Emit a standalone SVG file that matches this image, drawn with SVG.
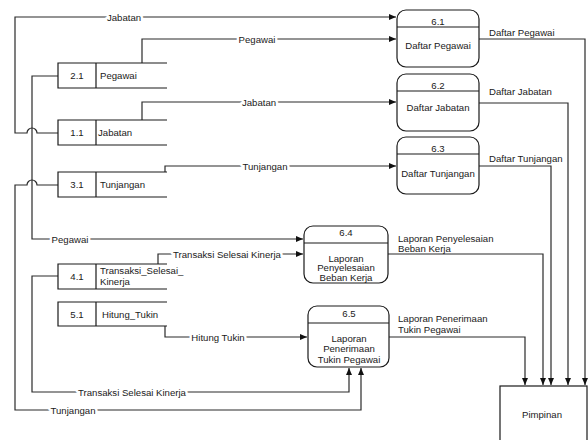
<svg xmlns="http://www.w3.org/2000/svg" width="588" height="440" viewBox="0 0 588 440">
  <style>
    .bg { fill: #ffffff; }
    .ln { fill: none; stroke: #2a2a2a; stroke-width: 1.2; }
    .box { fill: #ffffff; stroke: #1a1a1a; stroke-width: 1.2; }
    .ds { fill: none; stroke: #1a1a1a; stroke-width: 1.2; }
    text { font-family: "Liberation Sans", Arial, sans-serif; font-size: 9.6px; fill: #1a1a1a; }
    .c { text-anchor: middle; }
    .lbl { paint-order: stroke; stroke: #ffffff; stroke-width: 5px; stroke-linejoin: round; }
  </style>
  <defs>
    <marker id="arr" markerUnits="userSpaceOnUse" markerWidth="8" markerHeight="7" refX="7" refY="3" orient="auto">
      <path d="M0,0 L7,3 L0,6 z" fill="#111111"/>
    </marker>
  </defs>
  <rect class="bg" x="0" y="0" width="588" height="440"/>

  <!-- data flows -->
  <g id="connectors">
    <!-- 1.1 Jabatan -> 6.1 -->
    <path class="ln" d="M58,133 H37 A5,5 0 0 0 27,133 H15 V17 H396" marker-end="url(#arr)"/>
    <text class="c lbl" x="124" y="20.5">Jabatan</text>
    <!-- 2.1 Pegawai -> 6.1 -->
    <path class="ln" d="M142,63 V39 H396" marker-end="url(#arr)"/>
    <text class="c lbl" x="257" y="42.5">Pegawai</text>
    <!-- 1.1 Jabatan -> 6.2 -->
    <path class="ln" d="M142,120 V102 H396" marker-end="url(#arr)"/>
    <text class="c lbl" x="259" y="105.5">Jabatan</text>
    <!-- 3.1 Tunjangan -> 6.3 -->
    <path class="ln" d="M165,172 V166 H396" marker-end="url(#arr)"/>
    <text class="c lbl" x="265" y="169.5">Tunjangan</text>
    <!-- 2.1 Pegawai -> 6.4 -->
    <path class="ln" d="M58,76 H32 V239 H303" marker-end="url(#arr)"/>
    <text class="c lbl" x="70" y="242.5">Pegawai</text>
    <!-- 4.1 Transaksi -> 6.4 -->
    <path class="ln" d="M158,264 V254 H303" marker-end="url(#arr)"/>
    <text class="c lbl" x="227" y="257.5">Transaksi Selesai Kinerja</text>
    <!-- 5.1 Hitung Tukin -> 6.5 -->
    <path class="ln" d="M165,326 V337 H307" marker-end="url(#arr)"/>
    <text class="c lbl" x="218" y="340.5">Hitung Tukin</text>
    <!-- 4.1 Transaksi -> 6.5 -->
    <path class="ln" d="M58,276 H32 V392 H349 V368" marker-end="url(#arr)"/>
    <text class="c lbl" x="132" y="395.5">Transaksi Selesai Kinerja</text>
    <!-- 3.1 Tunjangan -> 6.5 -->
    <path class="ln" d="M58,185 H37 A5,5 0 0 0 27,185 H15 V410 H361 V368" marker-end="url(#arr)"/>
    <text class="c lbl" x="73" y="413.5">Tunjangan</text>

    <!-- reports to Pimpinan -->
    <path class="ln" d="M479,39 H585 V385" marker-end="url(#arr)"/>
    <text x="489" y="36">Daftar Pegawai</text>
    <path class="ln" d="M479,103 H568 V385" marker-end="url(#arr)"/>
    <text x="489" y="94.5">Daftar Jabatan</text>
    <path class="ln" d="M479,166 H551 V385" marker-end="url(#arr)"/>
    <text x="489" y="161.5">Daftar Tunjangan</text>
    <path class="ln" d="M388,254 H543 V385" marker-end="url(#arr)"/>
    <text x="398" y="241.5">Laporan Penyelesaian</text>
    <text x="398" y="251.5">Beban Kerja</text>
    <path class="ln" d="M389,337 H525 V385" marker-end="url(#arr)"/>
    <text x="398" y="322">Laporan Penerimaan</text>
    <text x="398" y="332.5">Tukin Pegawai</text>
  </g>

  <!-- data stores -->
  <g id="ds-2-1">
    <path class="ds" d="M167,63 H58 V88 H167 M96,63 V88"/>
    <text class="c" x="77" y="79">2.1</text>
    <text x="100" y="79">Pegawai</text>
  </g>
  <g id="ds-1-1">
    <path class="ds" d="M167,120 H58 V145 H167 M96,120 V145"/>
    <text class="c" x="77" y="136">1.1</text>
    <text x="98" y="136">Jabatan</text>
  </g>
  <g id="ds-3-1">
    <path class="ds" d="M167,172 H58 V197 H167 M96,172 V197"/>
    <text class="c" x="77" y="188">3.1</text>
    <text x="100" y="188">Tunjangan</text>
  </g>
  <g id="ds-4-1">
    <path class="ds" d="M167,264 H58 V289 H167 M96,264 V289"/>
    <text class="c" x="77" y="280">4.1</text>
    <text x="100" y="274">Transaksi_Selesai_</text>
    <text x="100" y="285">Kinerja</text>
  </g>
  <g id="ds-5-1">
    <path class="ds" d="M167,302 H58 V326 H167 M96,302 V326"/>
    <text class="c" x="77" y="317.5">5.1</text>
    <text x="102" y="317.5">Hitung_Tukin</text>
  </g>

  <!-- processes -->
  <g id="p-6-1">
    <rect class="box" x="397" y="10" width="82" height="57" rx="9"/>
    <line class="ds" x1="397" y1="27" x2="479" y2="27"/>
    <text class="c" x="438" y="24.5">6.1</text>
    <text class="c" x="438" y="48.5">Daftar Pegawai</text>
  </g>
  <g id="p-6-2">
    <rect class="box" x="397" y="74" width="82" height="57" rx="9"/>
    <line class="ds" x1="397" y1="91" x2="479" y2="91"/>
    <text class="c" x="438" y="88.5">6.2</text>
    <text class="c" x="438" y="111">Daftar Jabatan</text>
  </g>
  <g id="p-6-3">
    <rect class="box" x="397" y="137" width="82" height="57" rx="9"/>
    <line class="ds" x1="397" y1="154" x2="479" y2="154"/>
    <text class="c" x="438" y="151.5">6.3</text>
    <text class="c" x="438" y="176.5">Daftar Tunjangan</text>
  </g>
  <g id="p-6-4">
    <rect class="box" x="304" y="226" width="84" height="57" rx="9"/>
    <line class="ds" x1="304" y1="243" x2="388" y2="243"/>
    <text class="c" x="346" y="235.5">6.4</text>
    <text class="c" x="346" y="261.5">Laporan</text>
    <text class="c" x="346" y="271">Penyelesaian</text>
    <text class="c" x="346" y="280.5">Beban Kerja</text>
  </g>
  <g id="p-6-5">
    <rect class="box" x="308" y="306" width="81" height="61" rx="9"/>
    <line class="ds" x1="308" y1="323" x2="389" y2="323"/>
    <text class="c" x="349" y="316.5">6.5</text>
    <text class="c" x="349" y="341.5">Laporan</text>
    <text class="c" x="349" y="352">Penerimaan</text>
    <text class="c" x="349" y="363">Tukin Pegawai</text>
  </g>

  <!-- external entity -->
  <g id="ext-pimpinan">
    <rect class="box" x="500" y="386" width="87" height="70"/>
    <text class="c" x="542" y="418">Pimpinan</text>
  </g>
</svg>
